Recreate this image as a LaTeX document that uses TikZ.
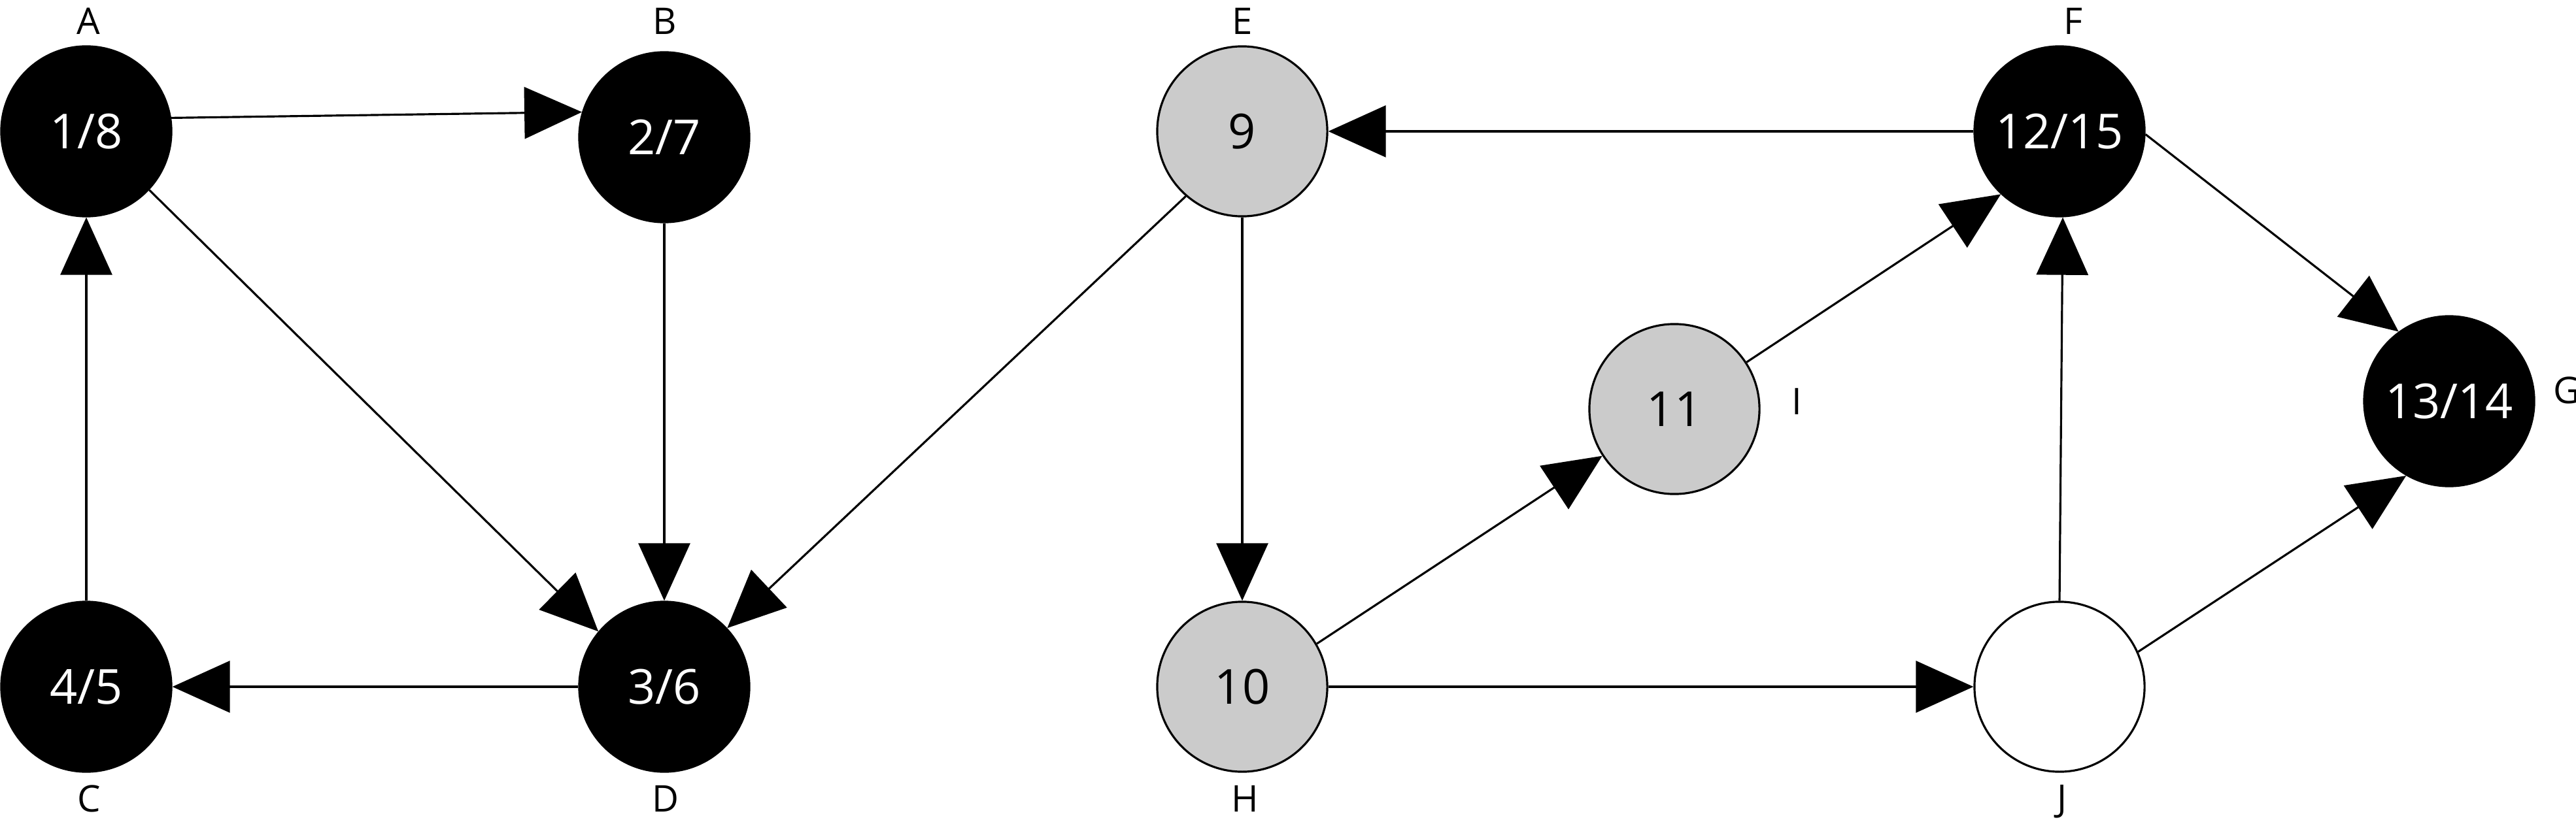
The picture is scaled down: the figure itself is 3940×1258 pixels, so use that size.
\documentclass[tikz,border=0pt]{standalone}
\usepackage{fontspec}
\setmainfont{Open Sans}
\usetikzlibrary{shapes.geometric,arrows.meta}
\definecolor{nodegrey}{HTML}{CBCBCB}
\tikzset{
  vtx/.style={circle, draw=black, line width=0.9pt, minimum size=2.6cm,
    inner sep=0pt, font=\fontsize{21}{21}\selectfont, text height=0.527cm, text depth=0pt},
  blk/.style={vtx, fill=black, text=white},
  gry/.style={vtx, fill=nodegrey},
  wht/.style={vtx, fill=white},
  lbl/.style={anchor=base, font=\fontsize{16}{16}\selectfont, inner sep=0pt},
  edge/.style={line width=0.9pt, -{Triangle[length=0.88cm, width=0.79cm]}}
}
\begin{document}
\begin{tikzpicture}[x=0.01cm, y=-0.01cm]
\useasboundingbox (0,0) rectangle (3940,1258);
% vertices
\node[blk] (A) at (132,201) {1/8};
\node[blk] (B) at (1016,210) {2/7};
\node[blk] (C) at (132,1051) {4/5};
\node[blk] (D) at (1016,1051) {3/6};
\node[gry] (E) at (1900,201) {9};
\node[gry] (H) at (1900,1051) {10};
\node[gry] (I) at (2561,626) {11};
\node[blk] (F) at (3150,201) {12/15};
\node[wht] (J) at (3150,1051) {};
\node[blk] (G) at (3746,614) {13/14};
% labels
\node[lbl] (lA) at (135,53) {A};
\node[lbl] (lB) at (1017,53) {B};
\node[lbl] (lC) at (136,1242) {C};
\node[lbl] (lD) at (1018,1242) {D};
\node[lbl] (lE) at (1900,53) {E};
\node[lbl] (lH) at (1904,1242) {H};
\node[lbl] (lF) at (3171,53) {F};
\node[lbl] (lJ) at (3154,1241) {J};
\node[lbl] (lI) at (2748,634) {I};
\node[lbl, anchor=base west] (lG) at (3905,617) {G};
% edges
\draw[edge] (A.9) -- (B.163);
\draw[edge] (B) -- (D);
\draw[edge] (A.-43) -- (D.140);
\draw[edge] (C) -- (A);
\draw[edge] (D) -- (C);
\draw[edge] (E.229) -- (D.43);
\draw[edge] (F) -- (E);
\draw[edge] (E) -- (H);
\draw[edge] (H.30) -- (I.213);
\draw[edge] (H) -- (J);
\draw[edge] (I.33) -- (F.227);
\draw[edge] (J.north) -- ([xshift=0.05cm]F.south);
\draw[edge] (F.-2) -- (G.126);
\draw[edge] (J.24) -- (G.240);
\end{tikzpicture}
\end{document}
